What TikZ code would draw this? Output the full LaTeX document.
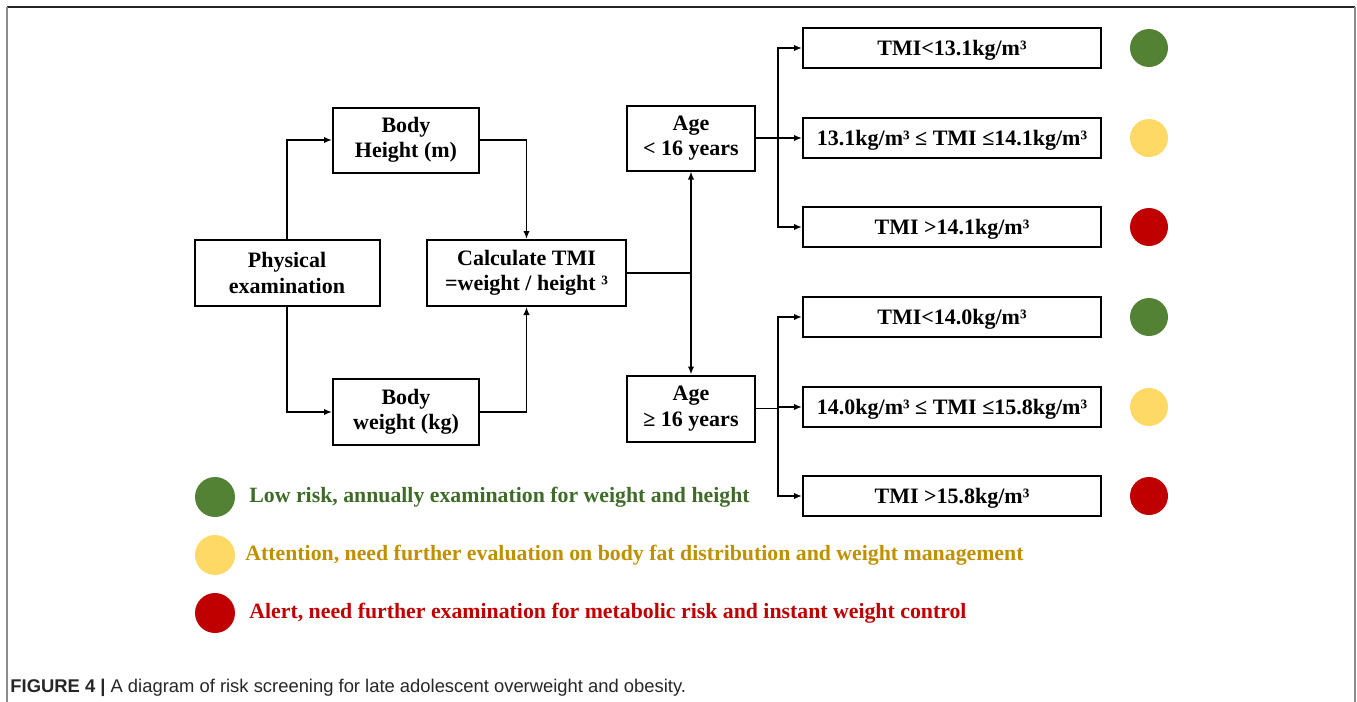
\documentclass[tikz,border=0pt]{standalone}
\usepackage{fontspec}
\setmainfont{Liberation Serif}
\newfontfamily\capfont{Liberation Sans}
\usetikzlibrary{arrows.meta,positioning}
\definecolor{lowgreen}{HTML}{548235}
\definecolor{lowtext}{HTML}{3F6B29}
\definecolor{midyellow}{HTML}{FFD966}
\definecolor{midtext}{HTML}{BF9000}
\definecolor{highred}{HTML}{C00000}

\begin{document}
\begin{tikzpicture}[x=0.5pt,y=-0.5pt,>={Latex[length=4pt,width=3.2pt]},
  every node/.style={font=\fontsize{11}{12.7}\selectfont\bfseries},
  box/.style={draw,line width=1pt,align=center,inner sep=0pt,minimum height=33pt,
    execute at begin node={\rule{0pt}{9.7pt}}},
  res/.style={box,minimum width=149pt,minimum height=20pt},
  dot/.style={circle,inner sep=0pt,minimum size=19pt},
  note/.style={anchor=west,inner sep=0pt,font=\fontsize{10.9}{12}\selectfont\bfseries},
  link/.style={->,line width=0.9pt}]
\useasboundingbox (0,0) rectangle (1357,702);
% frame of the figure
\draw[line width=0.9pt,black!85] (7,7) -- (1355,7);
\draw[line width=1.2pt,black!45] (7,7) -- (7,702) (1355,7) -- (1355,702);

% measurement part
\node[box,minimum width=92.5pt] (phys) at (287,273) {Physical\\examination};
\node[box,minimum width=73pt,minimum height=32.5pt] (height) at (406,140) {Body\\Height (m)};
\node[box,minimum width=73pt] (weight) at (406,412) {Body\\weight (kg)};
\node[box,minimum width=99.5pt] (calc) at (526.5,273) {Calculate TMI\\=weight / height ³};
\draw[link] (phys.north) |- (height.west);
\draw[link] (phys.south) |- (weight.west);
\draw[link] (height.east) -| (calc.north);
\draw[link] (weight.east) -| (calc.south);

% age groups
\node[box,minimum width=64pt,minimum height=32.5pt] (young) at (691,138) {Age\\< 16 years};
\node[box,minimum width=64pt] (old) at (691,408.5) {Age\\≥ 16 years};
\coordinate (split) at (young.south |- calc.east);
\draw[line width=0.9pt] (calc.east) -- (split);
\draw[link] (split) -- (young.south);
\draw[link] (split) -- (old.north);

% TMI cut-offs
\node[res] (y1) at (952,48) {TMI<13.1kg/m³};
\node[res] (y2) at (952,138) {13.1kg/m³ ≤ TMI ≤14.1kg/m³};
\node[res] (y3) at (952,227) {TMI >14.1kg/m³};
\node[res] (o1) at (952,317) {TMI<14.0kg/m³};
\node[res] (o2) at (952,407) {14.0kg/m³ ≤ TMI ≤15.8kg/m³};
\node[res] (o3) at (952,496) {TMI >15.8kg/m³};
\coordinate (forky) at (778,138);
\coordinate (forko) at (778,408.5);
\draw[line width=0.9pt] (young.east) -- (forky);
\draw[line width=0.9pt] (old.east) -- (forko);
\foreach \r in {y1,y2,y3} \draw[link] (forky) |- (\r.west);
\foreach \r in {o1,o2,o3} \draw[link] (forko) |- (\r.west);

% risk dots
\node[dot,fill=lowgreen] (y1d) at (1149,48) {};
\node[dot,fill=midyellow] (y2d) at (1149,138) {};
\node[dot,fill=highred] (y3d) at (1149,227) {};
\node[dot,fill=lowgreen] (o1d) at (1149,317) {};
\node[dot,fill=midyellow] (o2d) at (1149,407) {};
\node[dot,fill=highred] (o3d) at (1149,496) {};

% legend
\node[dot,minimum size=20pt,fill=lowgreen] (lowdot) at (215,497) {};
\node[dot,minimum size=20pt,fill=midyellow] (middot) at (215,555) {};
\node[dot,minimum size=20pt,fill=highred] (highdot) at (215,613) {};
\node[note,text=lowtext] (lowtxt) at (249,497) {Low risk, annually examination for weight and height};
\node[note,text=midtext] (midtxt) at (245,555) {Attention, need further evaluation on body fat distribution and weight management};
\node[note,text=highred] (hightxt) at (249,613) {Alert, need further examination for metabolic risk and instant weight control};

% caption
\node[anchor=base west,inner sep=0pt,font=\capfont\fontsize{9.2}{11}\selectfont,text=black!85] (caption) at (10,692)
 {\textbf{FIGURE 4 |} A diagram of risk screening for late adolescent overweight and obesity.};
\end{tikzpicture}
\end{document}
